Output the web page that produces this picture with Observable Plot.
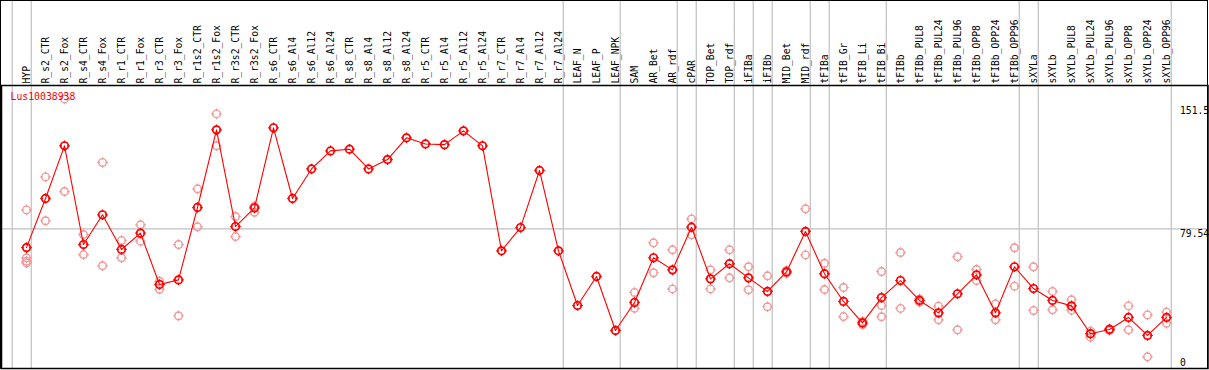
<!DOCTYPE html>
<html>
<head>
<meta charset="utf-8">
<script src="https://cdn.jsdelivr.net/npm/d3@7"></script>
<script src="https://cdn.jsdelivr.net/npm/@observablehq/plot@0.6"></script>
<style>
  html, body { margin: 0; padding: 0; background: #fff; }
  #wrap { position: relative; width: 1209px; height: 370px; }
  #border { position: absolute; left: 0; top: 0; width: 1208px; height: 369px; box-sizing: border-box; border: 1.5px solid #000; pointer-events: none; }
  svg { display: block; }
</style>
</head>
<body>
<div id="wrap"><div id="border"></div></div>
<script>
const seriesName = "Lus10038938";

const categories = [
  "HYP","R_s2_CTR","R_s2_Fox","R_s4_CTR","R_s4_Fox","R_r1_CTR","R_r1_Fox","R_r3_CTR","R_r3_Fox",
  "R_r1s2_CTR","R_r1s2_Fox","R_r3s2_CTR","R_r3s2_Fox","R_s6_CTR","R_s6_Al4","R_s6_Al12","R_s6_Al24",
  "R_s8_CTR","R_s8_Al4","R_s8_Al12","R_s8_Al24","R_r5_CTR","R_r5_Al4","R_r5_Al12","R_r5_Al24",
  "R_r7_CTR","R_r7_Al4","R_r7_Al12","R_r7_Al24","LEAF_N","LEAF_P","LEAF_NPK","SAM","AR_Bet","AR_rdf",
  "cPAR","TOP_Bet","TOP_rdf","iFIBa","iFIBb","MID_Bet","MID_rdf","tFIBa","tFIB_Gr","tFIB_Li","tFIB_Bi",
  "tFIBb","tFIBb_PUL8","tFIBb_PUL24","tFIBb_PUL96","tFIBb_OPP8","tFIBb_OPP24","tFIBb_OPP96",
  "sXYLa","sXYLb","sXYLb_PUL8","sXYLb_PUL24","sXYLb_PUL96","sXYLb_OPP8","sXYLb_OPP24","sXYLb_OPP96"
];

const means = [
  68.5, 97.4, 128.4, 70.3, 87.8, 67.4, 77.0, 46.8, 49.5,
  92.1, 137.8, 80.9, 91.9, 139.0, 97.4, 114.8, 125.4,
  126.4, 114.8, 120.3, 133.1, 129.5, 129.1, 137.2, 128.4,
  66.6, 80.3, 113.9, 66.6, 34.4, 51.5, 19.7, 36.2, 62.5, 55.4,
  80.5, 50.1, 59.0, 50.7, 42.7, 54.2, 78.0, 53.1, 36.8, 24.2, 39.1,
  49.1, 37.4, 30.1, 41.3, 52.5, 30.1, 57.2,
  44.4, 37.4, 34.2, 17.8, 20.3, 27.4, 16.8, 27.4
];

const replicates = [
  [90.7, 62.5, 60.5, 59.5], [110.1, 84.3], [156.0, 101.5], [76.2, 64.4], [118.6, 57.8],
  [72.7, 62.5], [81.9, 72.3], [48.7, 44.0], [70.3, 28.4], [103.1, 80.7], [147.2, 128.4],
  [86.8, 75.0], [92.9, 89.3], [], [], [], [], [], [], [], [], [], [], [], [], [], [], [], [],
  [], [], [], [42.1, 32.8], [71.3, 53.7], [67.2, 44.2], [85.4, 76.0], [55.4, 44.2],
  [67.2, 50.7], [57.2, 43.7], [51.9, 33.7], [55.0, 53.5], [91.3, 64.2], [59.3, 43.8],
  [45.0, 27.9], [25.0, 23.2], [54.4, 34.4, 27.8], [65.6, 32.7], [38.3, 36.4], [34.0, 26.0],
  [63.1, 20.1], [55.6, 49.1], [35.4, 26.0], [68.4, 45.8], [57.2, 31.5], [42.7, 31.9],
  [37.8, 31.7], [19.3, 15.8], [20.8, 19.8], [34.2, 20.1], [28.9, 4.2], [30.5, 24.0]
];

// group separators: drawn after these categories ("" = before the first one)
const separatorsAfter = ["", "HYP", "R_r7_Al24", "LEAF_NPK", "AR_rdf", "cPAR", "TOP_rdf",
  "iFIBa", "iFIBb", "MID_rdf", "tFIBa", "tFIB_Bi", "tFIBb_OPP96", "sXYLa", "sXYLb_OPP96"];

const refLine = [79.54];
const yLabelsTop = [151.5, 79.54];
const yLabelsBottom = [0];

// ---- derived tables
const meanData = categories.map((c, i) => ({i, c, v: means[i]}));
const repData = replicates.flatMap((reps, i) => reps.map(v => ({i, v})));
const sepData = separatorsAfter.map(c => categories.indexOf(c));

const mono = "'DejaVu Sans Mono', 'Liberation Mono', monospace";
const W = 1209, H = 370;
const mL = 1, mR = 1.5, mT = 85, mB = 2;
const step = 19, x0px = 26;
const xDomain = [(mL - x0px) / step, (W - mR - x0px) / step];
const yDomain = [-2.65, 163.9];
const yTopExtent = yDomain[1] + mT * (yDomain[1] - yDomain[0]) / (H - mT - mB);

// small tick marks around each circle marker
const tickMarks = {
  draw(ctx, size) {
    const r = Math.sqrt(size / Math.PI);
    const a = r - 1, b = r + 1.5;
    ctx.moveTo(0, -a); ctx.lineTo(0, -b);
    ctx.moveTo(0, a); ctx.lineTo(0, b);
    ctx.moveTo(a, 0); ctx.lineTo(b, 0);
    ctx.moveTo(-a, 0); ctx.lineTo(-b, 0);
  }
};

const R = 3.8;
const chart = Plot.plot({
  width: W, height: H,
  marginLeft: mL, marginRight: mR, marginTop: mT, marginBottom: mB,
  style: {fontFamily: mono, fontSize: "9.7px", background: "transparent", overflow: "visible"},
  x: {type: "linear", domain: xDomain, axis: null},
  y: {type: "linear", domain: yDomain, axis: null},
  marks: [
    Plot.ruleX(sepData, {x: d => d + 0.25, y1: yDomain[0], y2: yTopExtent, stroke: "#c0c0c0", strokeWidth: 1.2, clip: false}),
    Plot.ruleY(refLine, {stroke: "#c0c0c0", strokeWidth: 1.2}),
    Plot.frame({stroke: "#000", strokeWidth: 1.5}),
    Plot.axisX(d3.range(categories.length), {
      anchor: "top", tickSize: 0, tickPadding: 2, tickRotate: -90,
      tickFormat: i => categories[i], fontFamily: mono, fontSize: 9.7, fill: "#000", label: null
    }),
    Plot.dot(repData, {x: "i", y: "v", r: R, symbol: "circle", stroke: "#ef9a9a", strokeWidth: 1.4, fill: "none"}),
    Plot.dot(repData, {x: "i", y: "v", r: R, symbol: tickMarks, stroke: "#ef9a9a", strokeWidth: 1.2, fill: "none"}),
    Plot.line(meanData, {x: "i", y: "v", stroke: "#ff0000", strokeWidth: 1.1}),
    Plot.dot(meanData, {x: "i", y: "v", r: R, symbol: "circle", stroke: "#ff0000", strokeWidth: 1.7, fill: "none"}),
    Plot.dot(meanData, {x: "i", y: "v", r: R, symbol: tickMarks, stroke: "#ff0000", strokeWidth: 1.3, fill: "none"}),
    Plot.text([seriesName], {frameAnchor: "top-left", text: d => d, dx: 9, dy: 11.5, fill: "#ff0000",
      textAnchor: "start", lineAnchor: "middle", fontFamily: mono, fontSize: 9.8}),
    Plot.text(yLabelsTop, {y: d => d, frameAnchor: "right", text: d => String(d), textAnchor: "start",
      lineAnchor: "top", dx: -28, dy: 1, fill: "#000", fontFamily: mono, fontSize: 9.7}),
    Plot.text(yLabelsBottom, {y: d => d, frameAnchor: "right", text: d => String(d), textAnchor: "start",
      lineAnchor: "bottom", dx: -28, dy: 2.5, fill: "#000", fontFamily: mono, fontSize: 9.7})
  ]
});

document.getElementById("wrap").prepend(chart);
</script>
</body>
</html>
